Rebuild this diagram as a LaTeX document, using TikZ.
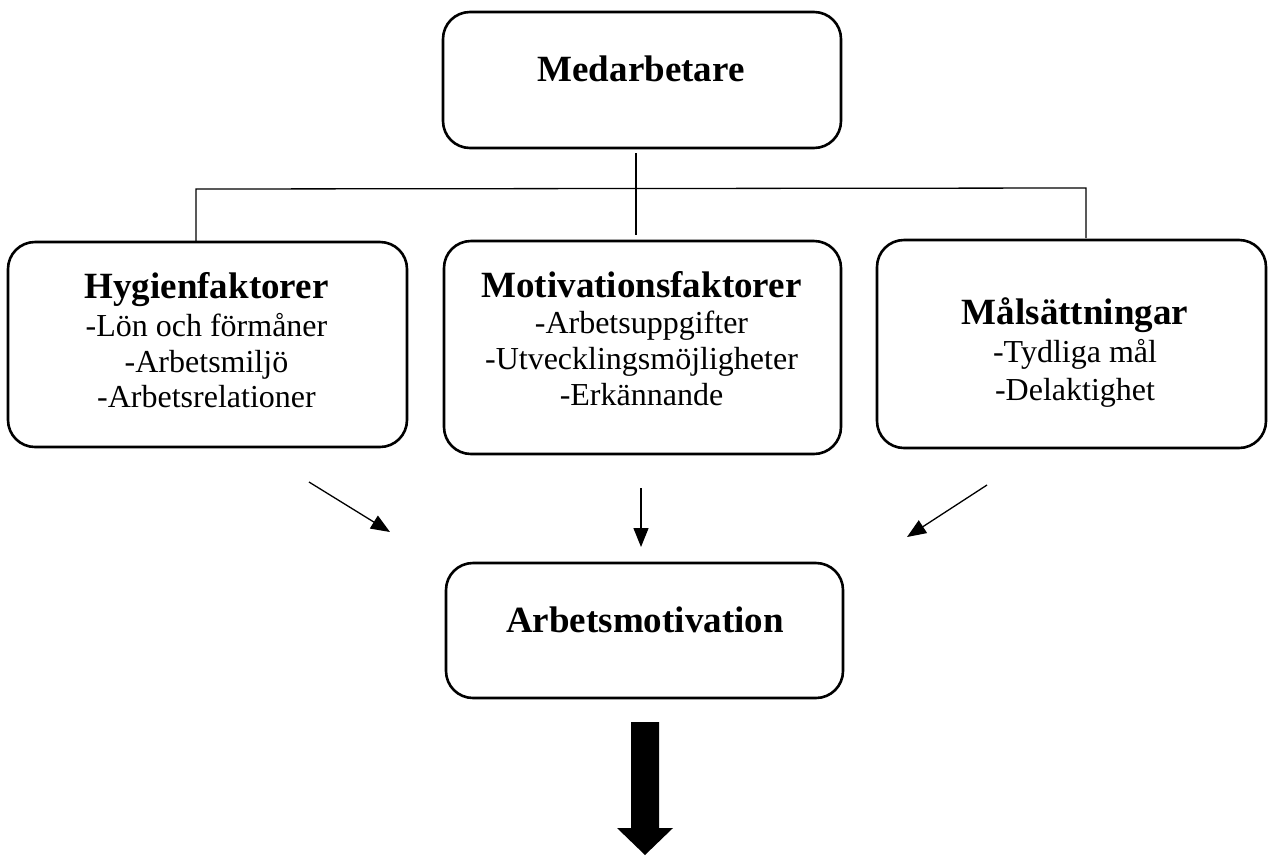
\documentclass[tikz,border=0pt]{standalone}
\usepackage{fontspec}
\setmainfont{Liberation Serif}
\usetikzlibrary{arrows.meta}
\tikzset{
  box/.style={draw, line width=2.6pt, rounded corners=27pt, inner sep=0pt, outer sep=0pt},
  ttl/.style={anchor=base, inner sep=0pt, font=\fontsize{37}{40}\selectfont\bfseries},
  itm/.style={anchor=base, inner sep=0pt, font=\fontsize{32}{36}\selectfont},
  conn/.style={line width=1.3pt},
  arr/.style={line width=1.3pt, -{Triangle[length=19pt,width=15pt]}},
}
\begin{document}
\begin{tikzpicture}[x=1pt,y=-1pt]
\useasboundingbox (0,0) rectangle (1268,855);
% boxes
\node[box, minimum width=398pt, minimum height=136pt] (med) at (642,80) {};
\node[box, minimum width=399pt, minimum height=205pt] (hyg) at (207.5,344.5) {};
\node[box, minimum width=397pt, minimum height=213pt] (mot) at (642.5,347.5) {};
\node[box, minimum width=389pt, minimum height=208pt] (mal) at (1071.5,344) {};
\node[box, minimum width=397pt, minimum height=135pt] (arb) at (644.5,630.5) {};
% texts
\node[ttl] (tmed) at (641,81) {Medarbetare};
\node[ttl] (thyg) at (206.5,298) {Hygienfaktorer};
\node[itm] (h1) at (206.5,336) {-Lön och förmåner};
\node[itm] (h2) at (206.5,372) {-Arbetsmiljö};
\node[itm] (h3) at (206.5,407) {-Arbetsrelationer};
\node[ttl] (tmot) at (641.5,297) {Motivationsfaktorer};
\node[itm] (m1) at (641.5,333) {-Arbetsuppgifter};
\node[itm] (m2) at (641.5,369) {-Utvecklingsmöjligheter};
\node[itm] (m3) at (641.5,405) {-Erkännande};
\node[ttl] (tmal) at (1075,324) {Målsättningar};
\node[itm] (s1) at (1075,362) {-Tydliga mål};
\node[itm] (s2) at (1075,400) {-Delaktighet};
\node[ttl] (tarb) at (645,632) {Arbetsmotivation};
% tree connector
\coordinate (c0) at (636,153);
\coordinate (cm) at (636,189);
\coordinate (cmb) at (636,235);
\coordinate (cl) at (196,189);
\coordinate (clb) at (196,241);
\coordinate (cr) at (1086,188);
\coordinate (crb) at (1086,238);
\draw[conn] (c0) -- (cmb);
\draw[conn] (clb) -- (cl) -- (cr) -- (crb);
% arrows
\coordinate (a1s) at (309,482);
\coordinate (a1e) at (390,532);
\coordinate (a2s) at (641,488);
\coordinate (a2e) at (641,547);
\coordinate (a3s) at (987,485);
\coordinate (a3e) at (907,537);
\draw[arr] (a1s) -- (a1e);
\draw[arr] (a2s) -- (a2e);
\draw[arr] (a3s) -- (a3e);
% big arrow
\fill (631,722) -- (659,722) -- (659,828) -- (673,828) -- (645,855) -- (617,828) -- (631,828) -- cycle;
\end{tikzpicture}
\end{document}
